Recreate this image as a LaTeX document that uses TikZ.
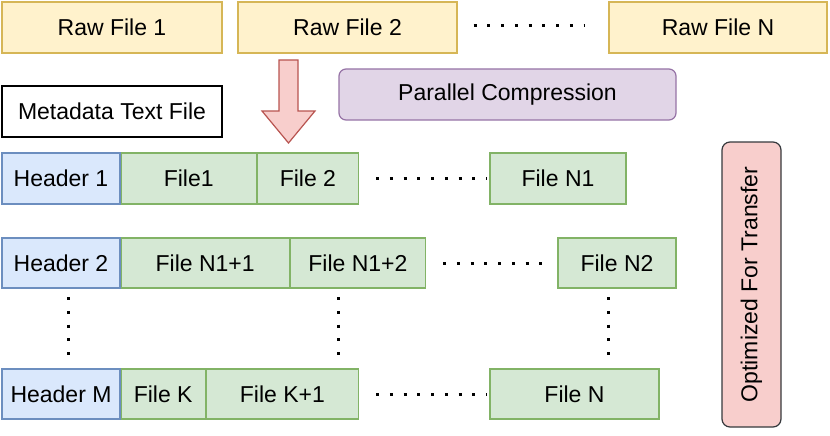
\documentclass[tikz,border=0pt]{standalone}
\usepackage{fontspec}
\setmainfont{Liberation Sans}
\usetikzlibrary{positioning}

\definecolor{rawfill}{HTML}{FFF2CC}
\definecolor{rawline}{HTML}{D6B656}
\definecolor{hdrfill}{HTML}{DAE8FC}
\definecolor{hdrline}{HTML}{6C8EBF}
\definecolor{filefill}{HTML}{D5E8D4}
\definecolor{fileline}{HTML}{82B366}
\definecolor{redfill}{HTML}{F8CECC}
\definecolor{redline}{HTML}{B85450}
\definecolor{purfill}{HTML}{E1D5E7}
\definecolor{purline}{HTML}{9673A6}
\definecolor{grayline}{HTML}{36393D}

\begin{document}
\begin{tikzpicture}[x=1pt, y=-1pt, line width=1.2pt,
  box/.style={draw, minimum height=51pt, inner sep=0pt,
    font=\fontsize{23}{27}\selectfont},
  rawbox/.style={box, fill=rawfill, draw=rawline},
  hdrbox/.style={box, fill=hdrfill, draw=hdrline, minimum width=118pt},
  filebox/.style={box, fill=filefill, draw=fileline},
  dotline/.style={line width=3pt, dash pattern=on 3pt off 10.75pt}]
  \useasboundingbox (0,0) rectangle (830,436);
  % raw input files
  \node[rawbox, minimum width=220pt] (raw1) at (112,27.5) {Raw File 1};
  \node[rawbox, minimum width=219pt] (raw2) at (347.5,27.5) {Raw File 2};
  \node[rawbox, minimum width=218pt] (rawN) at (718,27.5) {Raw File N};
  \draw[dotline] ([xshift=16pt,yshift=2pt]raw2.east) -- ([xshift=-23pt,yshift=2pt]rawN.west);
  % metadata + compression step
  \node[box, draw=black, minimum width=220pt] (meta) at (112,111.5) {Metadata Text File};
  \node[box, fill=purfill, draw=purline, rounded corners=7pt, minimum width=337pt] (comp) at (507.5,94.5) {Parallel Compression};
  \draw[fill=redfill, draw=redline] (279,60) -- (298,60) -- (298,111) -- (315,111)
    -- (288.5,143) -- (262,111) -- (279,111) -- cycle;
  % row 1
  \node[hdrbox] (hdr1) at (61,178.5) {Header 1};
  \node[filebox, minimum width=135pt, right=0pt of hdr1] (f1) {File1};
  \node[filebox, minimum width=101pt, right=0pt of f1] (f2) {File 2};
  \node[filebox, minimum width=136pt] (fN1) at (558,178.5) {File N1};
  \draw[dotline] ([xshift=17pt]f2.east) -- ([xshift=-3pt]fN1.west);
  % row 2
  \node[hdrbox, minimum height=50pt] (hdr2) at (61,263) {Header 2};
  \node[filebox, minimum height=50pt, minimum width=168pt, right=0pt of hdr2] (fN11) {File N1+1};
  \node[filebox, minimum height=50pt, minimum width=135pt, right=0pt of fN11] (fN12) {File N1+2};
  \node[filebox, minimum height=50pt, minimum width=118pt] (fN2) at (617,263) {File N2};
  \draw[dotline] ([xshift=17pt]fN12.east) -- ([xshift=-5pt]fN2.west);
  % skipped rows
  \foreach \vx in {68,338,608}
    \draw[dotline] (\vx,297) -- (\vx,355);
  % row M
  \node[hdrbox, minimum height=50pt] (hdrM) at (61,394) {Header M};
  \node[filebox, minimum height=50pt, minimum width=84pt, right=0pt of hdrM] (fK) {File K};
  \node[filebox, minimum height=50pt, minimum width=152pt, right=0pt of fK] (fK1) {File K+1};
  \node[filebox, minimum height=50pt, minimum width=169pt] (fN) at (574.5,394) {File N};
  \draw[dotline] ([xshift=17pt]fK1.east) -- ([xshift=-3pt]fN.west);
  % side label
  \node[box, fill=redfill, draw=grayline, rounded corners=8pt, minimum width=285pt,
    minimum height=59pt, rotate=90] (opt) at (751.5,284.5) {Optimized For Transfer};
\end{tikzpicture}
\end{document}
